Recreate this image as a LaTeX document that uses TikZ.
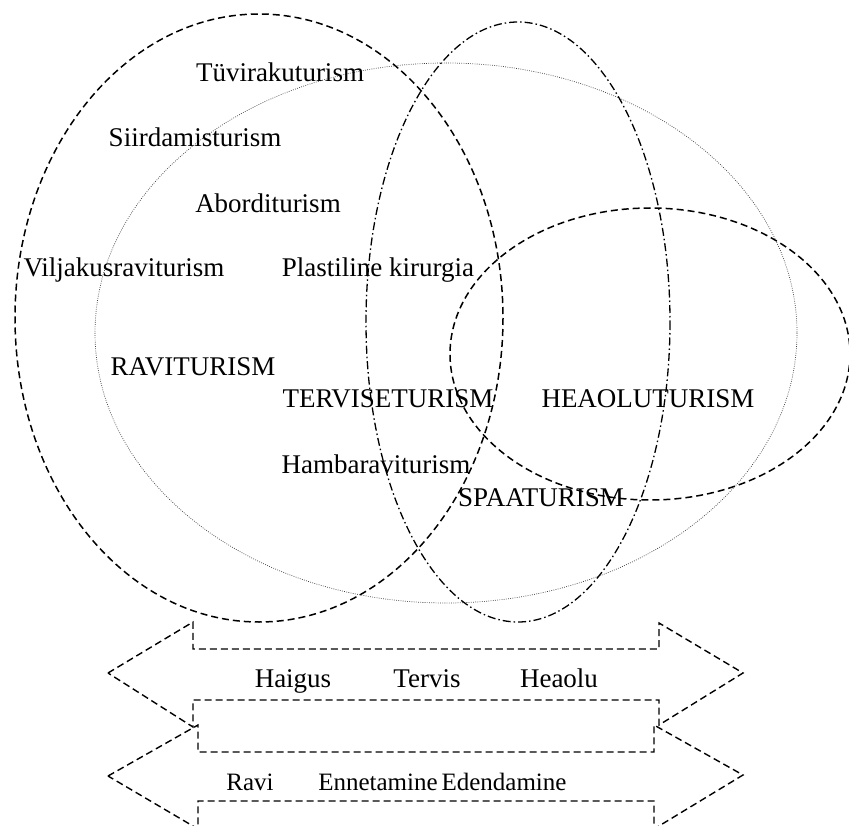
\documentclass[tikz,border=0pt]{standalone}
\usepackage{fontspec}
\setmainfont{Liberation Serif}
\tikzset{
  tratt/.style={dash pattern=on 7pt off 4pt, line width=1.5pt},
  punti/.style={dash pattern=on 0.8pt off 1.4pt, line width=0.7pt, black!75},
  trattpunto/.style={dash pattern=on 8pt off 3pt on 1.5pt off 3pt, line width=1.3pt},
  freccia/.style={dash pattern=on 7pt off 4pt, line width=1.4pt, line join=miter},
  testo/.style={font=\fontsize{27}{30}\selectfont, inner sep=0pt, anchor=base},
  testobasso/.style={testo, font=\fontsize{25}{30}\selectfont},
}
\begin{document}
\begin{tikzpicture}[x=1pt, y=-1pt]
    \useasboundingbox (0,0) rectangle (849,826);

    % Ellissi
    \draw[tratt]      (259,318) ellipse [x radius=244, y radius=304];
    \draw[punti]      (446,333) ellipse [x radius=351, y radius=270];
    \draw[trattpunto] (518,322) ellipse [x radius=152, y radius=300];
    \draw[tratt]      (650,354) ellipse [x radius=200, y radius=146];

    % Etichette
    \node[testo] (tuvi)   at (280,82)  {Tüvirakuturism};
    \node[testo] (siird)  at (195,147) {Siirdamisturism};
    \node[testo] (abord)  at (268,213) {Aborditurism};
    \node[testo] (vilja)  at (124,277) {Viljakusraviturism};
    \node[testo] (plast)  at (378,277) {Plastiline kirurgia};
    \node[testo] (ravi)   at (193,375) {RAVITURISM};
    \node[testo] (tervis) at (388,407) {TERVISETURISM};
    \node[testo] (heaolu) at (648,407) {HEAOLUTURISM};
    \node[testo] (hamba)  at (376,473) {Hambaraviturism};
    \node[testo] (spaa)   at (541,506) {SPAATURISM};

    % Frecce
    \draw[freccia] (108,673) -- (193,622) -- (193,649) -- (659,649) -- (659,623)
        -- (743,673) -- (659,725) -- (659,700) -- (193,700) -- (193,727) -- cycle;
    \draw[freccia] (108,776) -- (198,725) -- (198,752) -- (654,752) -- (654,725)
        -- (743,775) -- (654,829) -- (654,801) -- (198,801) -- (198,829) -- cycle;

    \node[testo] (haigus) at (293,687) {Haigus};
    \node[testo] (terv)   at (427,687) {Tervis};
    \node[testo] (heao)   at (559,687) {Heaolu};
    \node[testobasso] (ravim) at (250,790) {Ravi};
    \node[testobasso] (enne)  at (378,790) {Ennetamine};
    \node[testobasso] (eden)  at (504,790) {Edendamine};
\end{tikzpicture}
\end{document}
